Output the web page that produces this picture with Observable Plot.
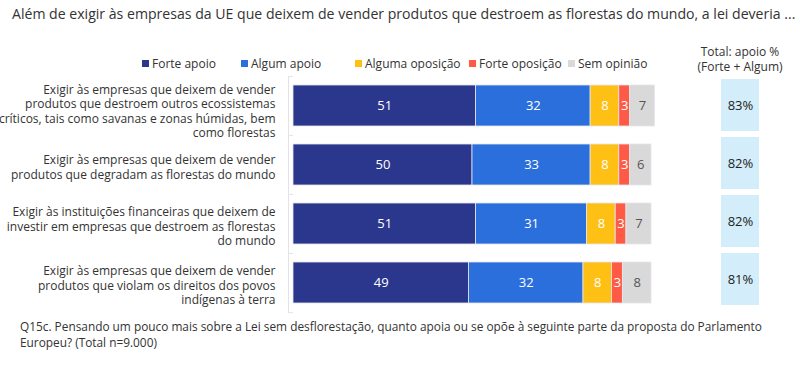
<!DOCTYPE html>
<html><head><meta charset="utf-8">
<script src="https://cdn.jsdelivr.net/npm/d3@7"></script>
<script src="https://cdn.jsdelivr.net/npm/@observablehq/plot@0.6"></script>
<style>
body{margin:0;width:807px;height:366px;position:relative;overflow:hidden;background:#fff;font-family:"Open Sans",sans-serif;color:#333}
#title{position:absolute;left:12px;top:4px;font-size:14.1px;white-space:nowrap}
#legend{position:absolute;top:55px;left:0;font-size:12px;height:16px}
.item{position:absolute;top:0;white-space:nowrap;display:flex;align-items:center;height:16px}
.sw{width:7px;height:7px;margin-right:3px;display:inline-block}
#thead{position:absolute;left:690px;width:100px;top:45px;text-align:center;font-size:12px;line-height:14.5px}
#charts{position:absolute;top:40px;left:0;display:flex}
#caption{position:absolute;left:20px;top:318px;font-size:11.85px;line-height:16px;white-space:nowrap}
</style></head>
<body>
<div id="title"></div>
<div id="legend"></div>
<div id="thead"></div>
<div id="charts"></div>
<div id="caption"></div>
<script>
const title = "Além de exigir às empresas da UE que deixem de vender produtos que destroem as florestas do mundo, a lei deveria ...";
const categories = [
  "Exigir às empresas que deixem de vender\nprodutos que destroem outros ecossistemas\ncríticos, tais como savanas e zonas húmidas, bem\ncomo florestas",
  "Exigir às empresas que deixem de vender\nprodutos que degradam as florestas do mundo",
  "Exigir às instituições financeiras que deixem de\ninvestir em empresas que destroem as florestas\ndo mundo",
  "Exigir às empresas que deixem de vender\nprodutos que violam os direitos dos povos\nindígenas à terra"
];
const series = ["Forte apoio", "Algum apoio", "Alguma oposição", "Forte oposição", "Sem opinião"];
const forteApoio = [51, 50, 51, 49];
const algumApoio = [32, 33, 31, 32];
const algumaOposicao = [8, 8, 8, 8];
const forteOposicao = [3, 3, 3, 3];
const semOpiniao = [7, 6, 7, 8];
const totalApoio = [83, 82, 82, 81];
const totalHeader = ["Total: apoio %", "(Forte + Algum)"];
const captionLines = [
  "Q15c. Pensando um pouco mais sobre a Lei sem desflorestação, quanto apoia ou se opõe à seguinte parte da proposta do Parlamento",
  "Europeu? (Total n=9.000)"
];
const colors = ["#2B378C", "#2A6FDB", "#FFC015", "#FF5A45", "#D9D9D9"];

// layout (not data)
const legendLeft = [142, 241, 355, 469, 568];

document.getElementById("title").textContent = title;
document.getElementById("thead").innerHTML = totalHeader.join("<br>");
document.getElementById("caption").innerHTML = captionLines.join("<br>");
const leg = document.getElementById("legend");
series.forEach((s, i) => {
  const it = document.createElement("div");
  it.className = "item";
  it.style.left = legendLeft[i] + "px";
  it.innerHTML = `<span class="sw" style="background:${colors[i]}"></span><span>${s}</span>`;
  leg.appendChild(it);
});

const seriesValues = [forteApoio, algumApoio, algumaOposicao, forteOposicao, semOpiniao];
const long = categories.flatMap((c, i) => series.map((s, j) => ({category: c, series: s, value: seriesValues[j][i]})));
const rows = categories.map((c, i) => ({category: c, total: totalApoio[i]}));

const H = 280, mT = 36, mB = 7;
const step = (H - mT - mB) / categories.length;
const font = "Open Sans, sans-serif";

const main = Plot.plot({
  width: 700, height: H, marginTop: mT, marginBottom: mB, marginLeft: 293, marginRight: 49,
  style: {fontFamily: font, background: "transparent"},
  x: {domain: [0, 100], axis: null},
  y: {domain: categories, paddingInner: 0.3, paddingOuter: 0.15, axis: null},
  color: {domain: series, range: colors},
  marks: [
    Plot.ruleX([0], {dx: -5, stroke: "#e2e2e8"}),
    Plot.ruleY(categories, {y: d => d, dy: -step / 2, dx: -5, insetRight: 353, stroke: "#e2e2e8"}),
    Plot.ruleY(categories.slice(-1), {y: d => d, dy: step / 2, dx: -5, insetRight: 353, stroke: "#e2e2e8"}),
    Plot.barX(long, {x: "value", y: "category", fill: "series", order: series, stroke: "#e6e6ee", strokeWidth: 0.8}),
    Plot.text(long, Plot.stackX({x: "value", y: "category", z: "series", order: series,
      text: d => d.series === "Sem opinião" ? null : d.value, fill: "white", fontSize: 13})),
    Plot.text(long, Plot.stackX({x: "value", y: "category", z: "series", order: series,
      text: d => d.series === "Sem opinião" ? d.value : null, fill: "#555", fontSize: 13})),
    Plot.text(rows.slice(0, 1), {y: "category", text: "category", frameAnchor: "left", textAnchor: "end",
      dx: -18, dy: 5, fontSize: 12, lineHeight: 1.21, fill: "#333"}),
    Plot.text(rows.slice(1), {y: "category", text: "category", frameAnchor: "left", textAnchor: "end",
      dx: -18, dy: 2, fontSize: 12, lineHeight: 1.21, fill: "#333"})
  ]
});

const tot = Plot.plot({
  width: 107, height: H, marginTop: mT, marginBottom: 12, marginLeft: 21, marginRight: 48,
  style: {fontFamily: font, background: "transparent"},
  y: {domain: categories, paddingInner: 0.1, paddingOuter: 0.05, axis: null},
  marks: [
    Plot.cell(rows, {y: "category", fill: "#D3EEFA"}),
    Plot.text(rows, {y: "category", text: d => d.total + "%", fontSize: 13, fill: "#222"})
  ]
});

const ch = document.getElementById("charts");
ch.appendChild(main);
ch.appendChild(tot);
</script>
</body></html>
